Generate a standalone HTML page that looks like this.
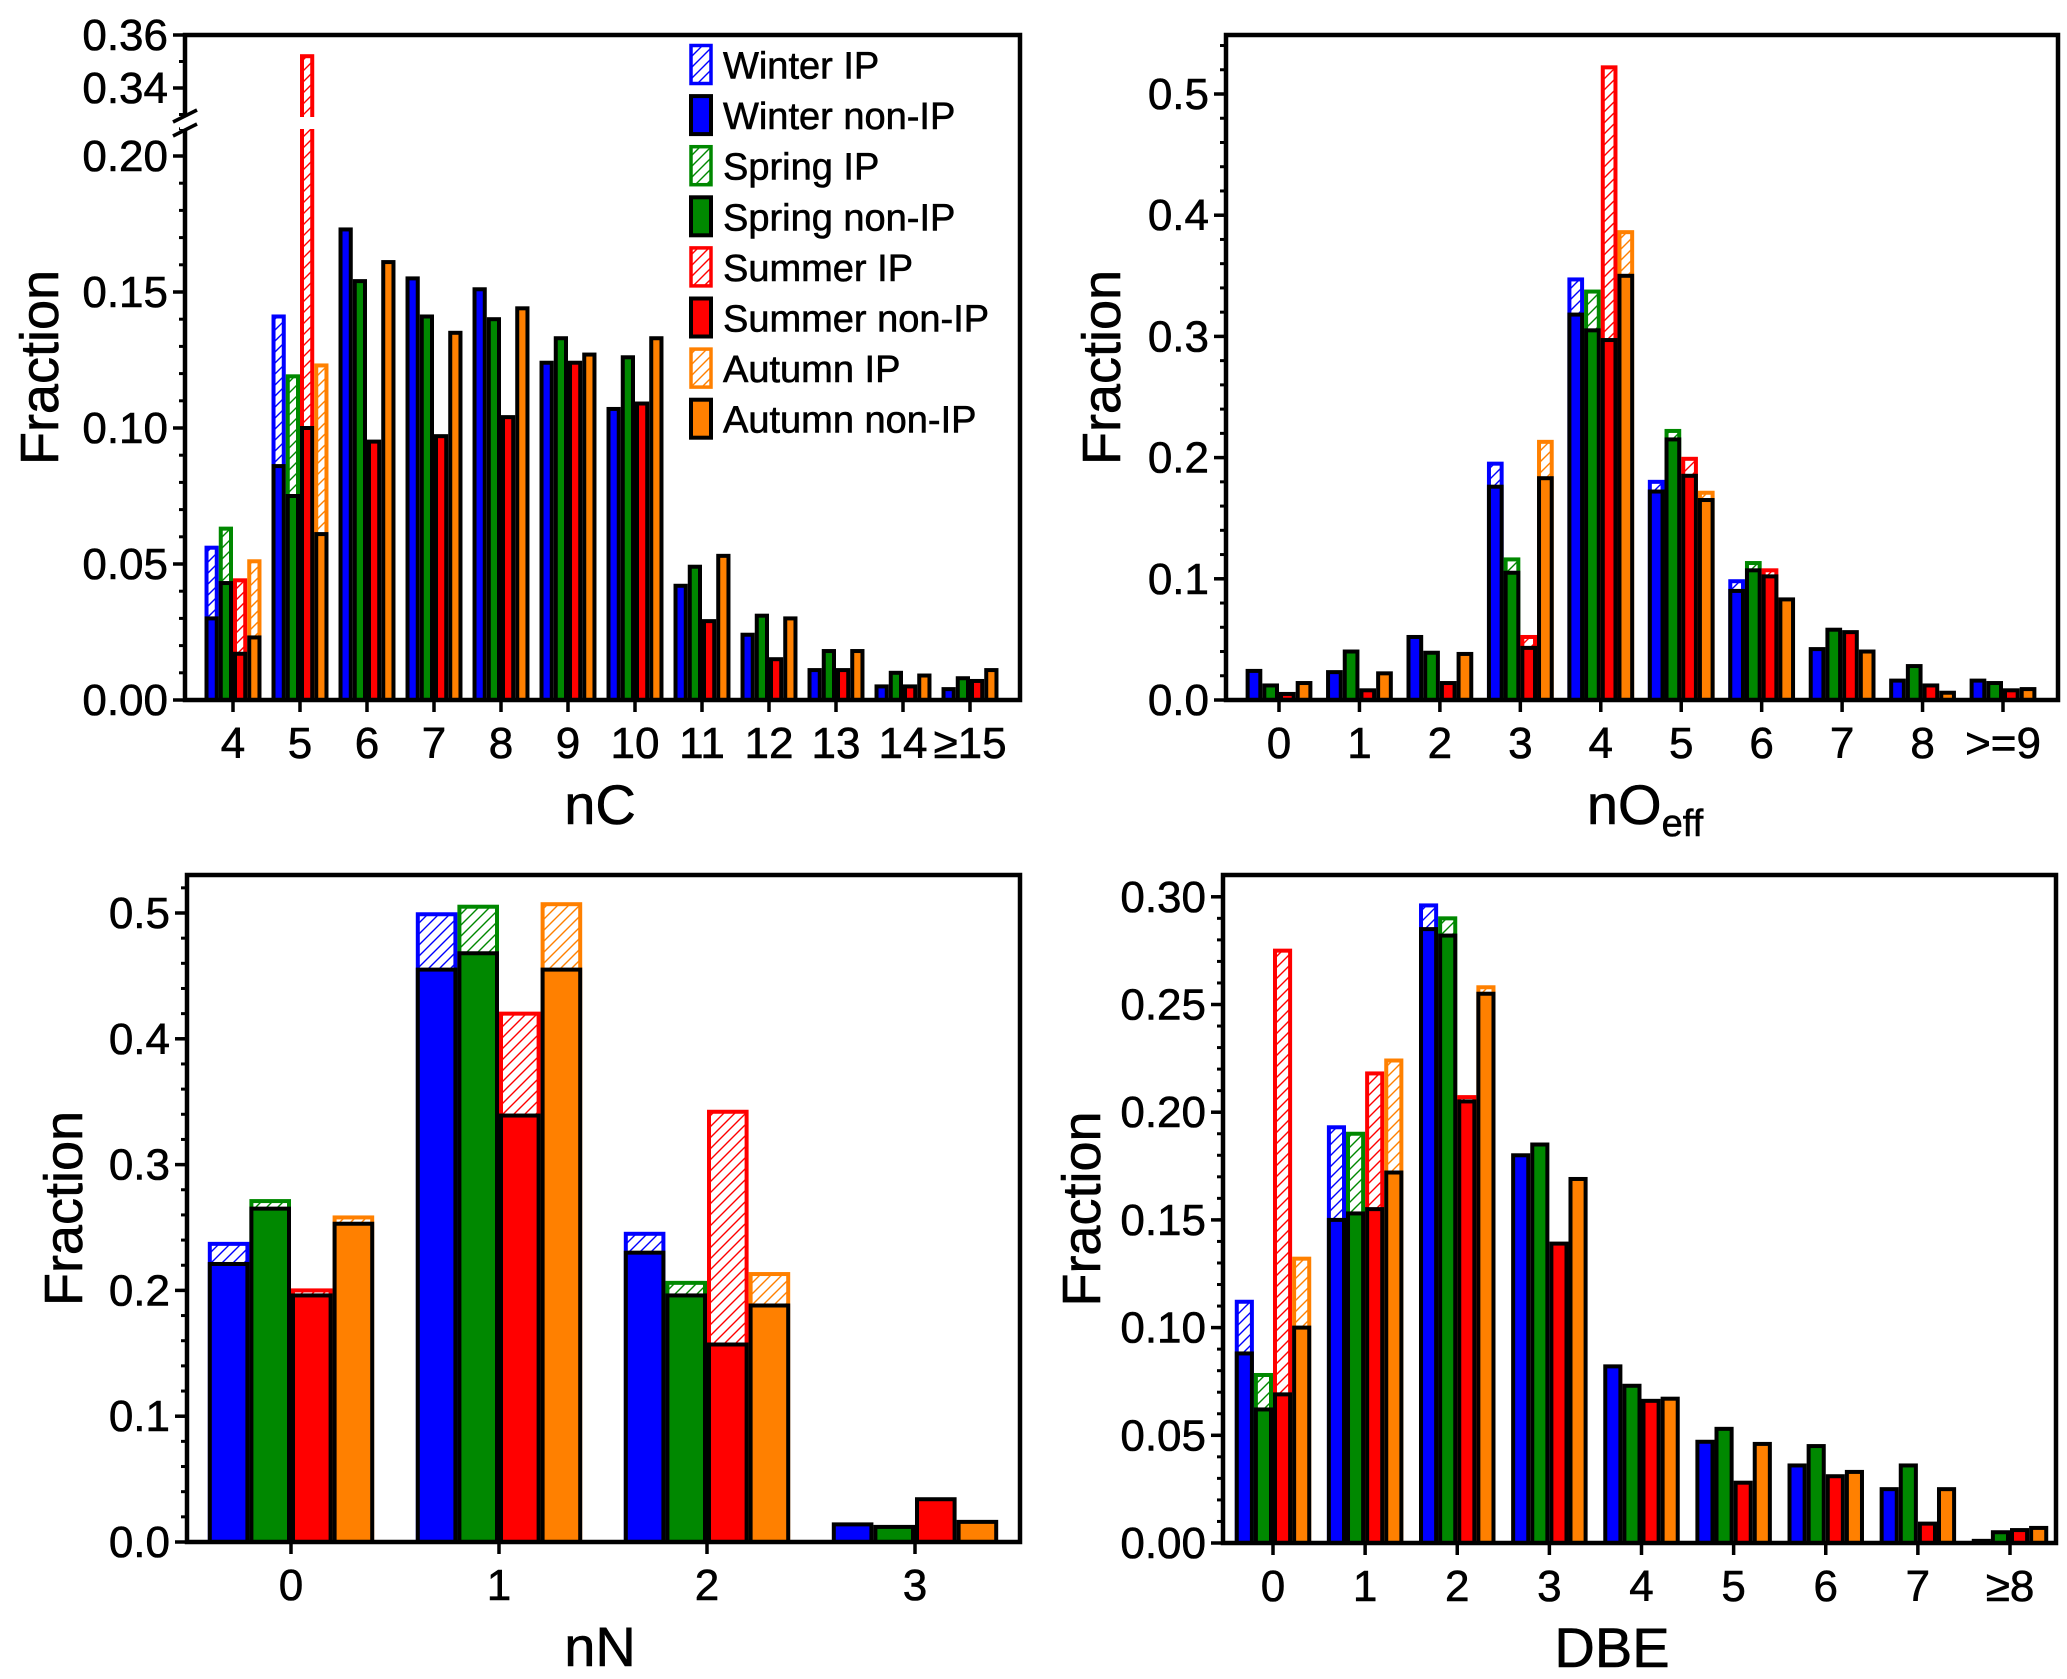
<!DOCTYPE html>
<html><head><meta charset="utf-8">
<style>
html,body{margin:0;padding:0;background:#fff;}
svg{display:block;font-family:"Liberation Sans",Arial,sans-serif;}
text{stroke:#000;stroke-width:0.6px;}
</style></head>
<body>
<svg id="chart" width="2067" height="1679" viewBox="0 0 2067 1679" xmlns="http://www.w3.org/2000/svg">
<defs>
<pattern id="h-blue" patternUnits="userSpaceOnUse" width="11" height="11"><rect width="11" height="11" fill="#fff"/><path d="M-1,12 L12,-1 M-3,3 L3,-3 M8,14 L14,8" stroke="#0000ff" stroke-width="1.4"/></pattern>
<pattern id="h-green" patternUnits="userSpaceOnUse" width="11" height="11"><rect width="11" height="11" fill="#fff"/><path d="M-1,12 L12,-1 M-3,3 L3,-3 M8,14 L14,8" stroke="#008800" stroke-width="1.4"/></pattern>
<pattern id="h-red" patternUnits="userSpaceOnUse" width="11" height="11"><rect width="11" height="11" fill="#fff"/><path d="M-1,12 L12,-1 M-3,3 L3,-3 M8,14 L14,8" stroke="#ff0000" stroke-width="1.4"/></pattern>
<pattern id="h-orange" patternUnits="userSpaceOnUse" width="11" height="11"><rect width="11" height="11" fill="#fff"/><path d="M-1,12 L12,-1 M-3,3 L3,-3 M8,14 L14,8" stroke="#ff8000" stroke-width="1.4"/></pattern>
</defs>
</svg>
<script>
// ---------- data ----------
const seasonNames = ["Winter","Spring","Summer","Autumn"];
const seasonColors = ["#0000ff","#008800","#ff0000","#ff8000"];
const seasonPatterns = ["h-blue","h-green","h-red","h-orange"];

// Panel A: nC
const nCCategories = ["4","5","6","7","8","9","10","11","12","13","14","≥15"];
const nCWinterNon = [0.030,0.086,0.173,0.155,0.151,0.124,0.107,0.042,0.024,0.011,0.005,0.004];
const nCWinterIP  = [0.056,0.141,0,0,0,0,0,0,0,0,0,0];
const nCSpringNon = [0.043,0.075,0.154,0.141,0.140,0.133,0.126,0.049,0.031,0.018,0.010,0.008];
const nCSpringIP  = [0.063,0.119,0,0,0,0,0,0,0,0,0,0];
const nCSummerNon = [0.017,0.100,0.095,0.097,0.104,0.124,0.109,0.029,0.015,0.011,0.005,0.007];
const nCSummerIP  = [0.044,0.352,0,0,0,0,0,0,0,0,0,0];
const nCAutumnNon = [0.023,0.061,0.161,0.135,0.144,0.127,0.133,0.053,0.030,0.018,0.009,0.011];
const nCAutumnIP  = [0.051,0.123,0,0,0,0,0,0,0,0,0,0];
const nCTicks = [0,0.05,0.10,0.15,0.20];
const nCTickLabels = ["0.00","0.05","0.10","0.15","0.20"];
const nCUpperTicks = [0.34,0.36];
const nCUpperTickLabels = ["0.34","0.36"];

// Panel B: nOeff
const nOCategories = ["0","1","2","3","4","5","6","7","8",">=9"];
const nOWinterNon = [0.024,0.023,0.052,0.176,0.318,0.172,0.090,0.042,0.016,0.016];
const nOWinterIP  = [0,0,0,0.195,0.347,0.180,0.098,0,0,0];
const nOSpringNon = [0.012,0.040,0.039,0.105,0.305,0.215,0.107,0.058,0.028,0.014];
const nOSpringIP  = [0,0,0,0.116,0.337,0.222,0.113,0,0,0];
const nOSummerNon = [0.005,0.008,0.014,0.043,0.297,0.185,0.102,0.056,0.012,0.008];
const nOSummerIP  = [0,0,0,0.052,0.522,0.199,0.107,0,0,0];
const nOAutumnNon = [0.014,0.022,0.038,0.183,0.350,0.165,0.083,0.040,0.006,0.009];
const nOAutumnIP  = [0,0,0,0.213,0.386,0.171,0,0,0,0];
const nOTicks = [0,0.1,0.2,0.3,0.4,0.5];
const nOTickLabels = ["0.0","0.1","0.2","0.3","0.4","0.5"];

// Panel C: nN
const nNCategories = ["0","1","2","3"];
const nNWinterNon = [0.221,0.455,0.230,0.014];
const nNWinterIP  = [0.237,0.499,0.245,0];
const nNSpringNon = [0.265,0.468,0.196,0.012];
const nNSpringIP  = [0.271,0.505,0.206,0];
const nNSummerNon = [0.196,0.339,0.157,0.034];
const nNSummerIP  = [0.200,0.420,0.342,0];
const nNAutumnNon = [0.253,0.455,0.188,0.016];
const nNAutumnIP  = [0.258,0.507,0.213,0];
const nNTicks = [0,0.1,0.2,0.3,0.4,0.5];
const nNTickLabels = ["0.0","0.1","0.2","0.3","0.4","0.5"];

// Panel D: DBE
const dbeCategories = ["0","1","2","3","4","5","6","7","≥8"];
const dbeWinterNon = [0.088,0.150,0.285,0.180,0.082,0.047,0.036,0.025,0.001];
const dbeWinterIP  = [0.112,0.193,0.296,0,0,0,0,0,0];
const dbeSpringNon = [0.062,0.153,0.282,0.185,0.073,0.053,0.045,0.036,0.005];
const dbeSpringIP  = [0.078,0.190,0.290,0,0,0,0,0,0];
const dbeSummerNon = [0.069,0.155,0.205,0.139,0.066,0.028,0.031,0.009,0.006];
const dbeSummerIP  = [0.275,0.218,0.207,0,0,0,0,0,0];
const dbeAutumnNon = [0.100,0.172,0.255,0.169,0.067,0.046,0.033,0.025,0.007];
const dbeAutumnIP  = [0.132,0.224,0.258,0,0,0,0,0,0];
const dbeTicks = [0,0.05,0.10,0.15,0.20,0.25,0.30];
const dbeTickLabels = ["0.00","0.05","0.10","0.15","0.20","0.25","0.30"];

// ---------- drawing ----------
const svg = document.getElementById('chart');
const NS = 'http://www.w3.org/2000/svg';
function mk(tag, attrs, parent){
  const e = document.createElementNS(NS, tag);
  for (const k in attrs) e.setAttribute(k, attrs[k]);
  (parent||svg).appendChild(e);
  return e;
}

function drawPanel(cfg){
  const g = mk('g', {});
  
  
  const n = cfg.cats.length;
  const step = (cfg.lastX - cfg.firstX) / (n - 1);
  const xOf = i => cfg.firstX + i * step;
  const bw = step * cfg.groupFrac / 4;
  for (let i = 0; i < n; i++){
    for (let s = 0; s < 4; s++){
      const x0 = xOf(i) - 2 * bw + s * bw;
      const ipv = cfg.ip[s][i];
      if (ipv > 0){
        const yt = cfg.y(ipv), yb = cfg.y(0);
        const r = mk('rect', {x:x0+2, y:yt, width:bw-4, height:yb-yt, fill:'url(#'+seasonPatterns[s]+')', stroke:seasonColors[s], 'stroke-width':4}, g);
        
        
      }
      const v = cfg.non[s][i];
      const yt = cfg.y(v), yb = cfg.y(0);
      const r2 = mk('rect', {x:x0+2, y:yt, width:bw-4, height:Math.max(0,yb-yt), fill:seasonColors[s], stroke:'#000', 'stroke-width':4}, g);
      
      
    }
  }
  if (cfg.afterBars) cfg.afterBars(g);
  const fr = mk('rect', {x:cfg.left, y:cfg.top, width:cfg.right-cfg.left, height:cfg.bottom-cfg.top, fill:'none', stroke:'#000', 'stroke-width':4.5}, g);
  
  
  cfg.ticks.forEach((t, k) => {
    const yy = cfg.y(t);
    mk('line', {x1:cfg.left-12, x2:cfg.left, y1:yy, y2:yy, stroke:'#000', 'stroke-width':3.5}, g);
    const tl = mk('text', {x:cfg.left-17, y:yy+15, 'text-anchor':'end', 'font-size':44}, g);
    tl.textContent = cfg.tickLabels[k];
    
    
  });
  cfg.minor.forEach(t => {
    const yy = cfg.y(t);
    mk('line', {x1:cfg.left-6, x2:cfg.left, y1:yy, y2:yy, stroke:'#000', 'stroke-width':3}, g);
  });
  for (let i = 0; i < n; i++){
    mk('line', {x1:xOf(i), x2:xOf(i), y1:cfg.bottom, y2:cfg.bottom+12, stroke:'#000', 'stroke-width':3.5}, g);
    const xl = mk('text', {x:xOf(i), y:cfg.bottom+58, 'text-anchor':'middle', 'font-size':44}, g);
    xl.textContent = cfg.cats[i];
    
    
  }
  const yt = mk('text', {x:cfg.yTitleX, y:(cfg.top+cfg.bottom)/2, 'text-anchor':'middle', 'font-size':54, transform:'rotate(-90 '+cfg.yTitleX+' '+((cfg.top+cfg.bottom)/2)+')'}, g);
  yt.textContent = 'Fraction';
  
  
  const xt = mk('text', {x:cfg.xTitleX, y:cfg.bottom+124, 'text-anchor':'middle', 'font-size':56}, g);
  
  
  if (cfg.xSub){
    xt.textContent = cfg.xTitle;
    const ts = mk('tspan', {'font-size':38, dy:12}, xt);
    ts.textContent = cfg.xSub;
  } else xt.textContent = cfg.xTitle;
  return g;
}
function range(a, b, st){ const r=[]; for(let v=a; v<=b+1e-9; v+=st) r.push(+v.toFixed(4)); return r; }

const yA = v => v <= 0.25 ? 700 - v * 2720 : 88 - (v - 0.34) * 2650;
drawPanel({
  name:'panel-nc', key:'nc', cats:nCCategories,
  non:[nCWinterNon,nCSpringNon,nCSummerNon,nCAutumnNon],
  ip:[nCWinterIP,nCSpringIP,nCSummerIP,nCAutumnIP],
  left:185, right:1020, top:35, bottom:700, firstX:233, lastX:970, groupFrac:0.85,
  y:yA, ticks:nCTicks.concat(nCUpperTicks), tickLabels:nCTickLabels.concat(nCUpperTickLabels),
  minor:range(0.01,0.21,0.01).concat([0.33,0.35]),
  yTitleX:58, xTitleX:600, xTitle:'nC',
  afterBars:(g)=>{
    mk('rect',{x:178,y:117,width:836,height:12,fill:'#fff'},g);
  }
});
const br = mk('g', {});


mk('rect',{x:180,y:117,width:10,height:12,fill:'#fff'},br);
mk('line',{x1:173,y1:122,x2:197,y2:110,stroke:'#000','stroke-width':3.5},br);
mk('line',{x1:173,y1:136,x2:197,y2:124,stroke:'#000','stroke-width':3.5},br);

drawPanel({
  name:'panel-noeff', key:'no', cats:nOCategories,
  non:[nOWinterNon,nOSpringNon,nOSummerNon,nOAutumnNon],
  ip:[nOWinterIP,nOSpringIP,nOSummerIP,nOAutumnIP],
  left:1226, right:2058, top:35, bottom:700, firstX:1279, lastX:2003, groupFrac:0.83,
  y:v => 700 - v * 1212, ticks:nOTicks, tickLabels:nOTickLabels,
  minor:range(0.02,0.54,0.02), yTitleX:1120, xTitleX:1645, xTitle:'nO', xSub:'eff'
});
drawPanel({
  name:'panel-nn', key:'nn', cats:nNCategories,
  non:[nNWinterNon,nNSpringNon,nNSummerNon,nNAutumnNon],
  ip:[nNWinterIP,nNSpringIP,nNSummerIP,nNAutumnIP],
  left:187, right:1020, top:875, bottom:1542, firstX:291, lastX:915, groupFrac:0.8,
  y:v => 1542 - v * 1258, ticks:nNTicks, tickLabels:nNTickLabels,
  minor:range(0.02,0.52,0.02), yTitleX:82, xTitleX:600, xTitle:'nN'
});
drawPanel({
  name:'panel-dbe', key:'dbe', cats:dbeCategories,
  non:[dbeWinterNon,dbeSpringNon,dbeSummerNon,dbeAutumnNon],
  ip:[dbeWinterIP,dbeSpringIP,dbeSummerIP,dbeAutumnIP],
  left:1223, right:2056, top:875, bottom:1543, firstX:1273, lastX:2010, groupFrac:0.83,
  y:v => 1543 - v * 2154, ticks:dbeTicks, tickLabels:dbeTickLabels,
  minor:range(0.01,0.30,0.01), yTitleX:1100, xTitleX:1612, xTitle:'DBE'
});

const lg = mk('g', {});


for (let s = 0; s < 4; s++){
  for (let k = 0; k < 2; k++){
    const idx = s*2 + k;
    const cy = 64.5 + idx * 50.6;
    const ent = mk('g', {}, lg);
    
    
    if (k === 0) mk('rect',{x:691,y:cy-19,width:20,height:38,fill:'url(#'+seasonPatterns[s]+')',stroke:seasonColors[s],'stroke-width':3.5},ent);
    else mk('rect',{x:691,y:cy-19,width:20,height:38,fill:seasonColors[s],stroke:'#000','stroke-width':4},ent);
    const t = mk('text',{x:723,y:cy+14,'font-size':38},ent);
    t.textContent = seasonNames[s] + (k===0 ? ' IP' : ' non-IP');
  }
}
</script>
</body></html>
